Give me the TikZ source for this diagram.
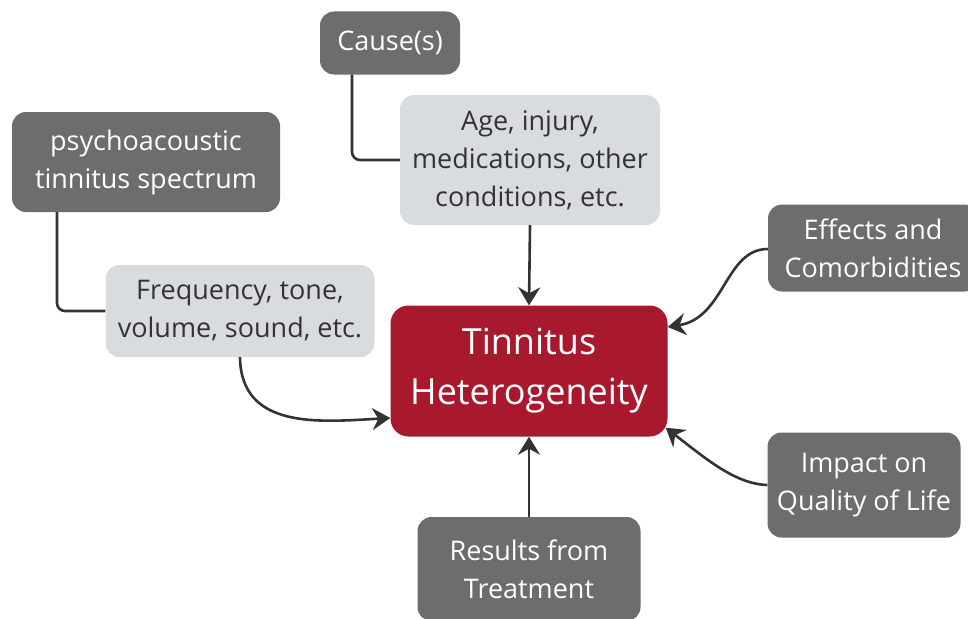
\documentclass[tikz,border=0pt]{standalone}
\usepackage{fontspec}
\setmainfont{Open Sans}
\usepackage{xcolor}
\usepackage{tikz}
\usetikzlibrary{arrows.meta}

\definecolor{darkbox}{HTML}{6D6D6D}
\definecolor{lightbox}{HTML}{D9DCDF}
\definecolor{redbox}{HTML}{A8192E}
\definecolor{linecol}{HTML}{333333}

\begin{document}
\begin{tikzpicture}[x=1pt, y=-1pt,
    dark/.style={fill=darkbox, text=white, rounded corners=14pt, inner sep=0pt, align=center, font=\fontsize{27}{38}\selectfont},
    light/.style={fill=lightbox, text=linecol, rounded corners=14pt, inner sep=0pt, align=center, font=\fontsize{27}{38}\selectfont},
    link/.style={draw=linecol, line width=2.6pt},
    arr/.style={link, -{Stealth[length=18pt, width=22pt, inset=6pt]}}]
             \useasboundingbox (0,0) rectangle (968,618);

             \node[dark, minimum width=140pt, minimum height=63pt] (cause) at (390, 43) {Cause(s)};
             \node[light, minimum width=260pt, minimum height=130pt] (age) at (530, 160) {Age, injury,\\medications, other\\conditions, etc.};
             \node[dark, minimum width=268pt, minimum height=100pt] (psycho) at (146, 162) {psychoacoustic\\tinnitus spectrum};
             \node[light, minimum width=269pt, minimum height=92pt] (freq) at (240, 311) {Frequency, tone,\\volume, sound, etc.};
             \node[fill=redbox, text=white, rounded corners=18pt, inner sep=0pt, align=center,
                   font=\fontsize{36}{50}\selectfont, minimum width=277pt, minimum height=131pt] (tinnitus) at (529, 371) {Tinnitus\\Heterogeneity};
             \node[dark, minimum width=210pt, minimum height=87pt] (effects) at (873, 248) {Effects and\\Comorbidities};
             \node[dark, minimum width=193pt, minimum height=105pt] (impact) at (864, 485) {Impact on\\Quality of Life};
             \node[dark, minimum width=223pt, minimum height=104pt] (results) at (529, 569) {Results from\\Treatment};

             % sub-item links
             \draw[link, rounded corners=8pt] ([xshift=-38pt]cause.south) |- (age.west);
             \draw[link, rounded corners=8pt] ([xshift=-89pt]psycho.south) |- (freq.west);

             % arrows into the centre
             \draw[arr] (age.south) -- (tinnitus.north);
             \draw[arr] (results.north) -- (tinnitus.south);
             \draw[arr] (freq.south) .. controls (241, 430) and (320, 422) .. ([yshift=-47pt]tinnitus.west);
             \draw[arr] ([yshift=-1pt]effects.west) .. controls (725, 249) and (725, 318) .. ([yshift=44pt]tinnitus.east);
             \draw[arr] (impact.west) .. controls (735, 484) and (705, 458) .. ([shift={(-2pt,9pt)}]tinnitus.south east);
             \end{tikzpicture}
\end{document}
